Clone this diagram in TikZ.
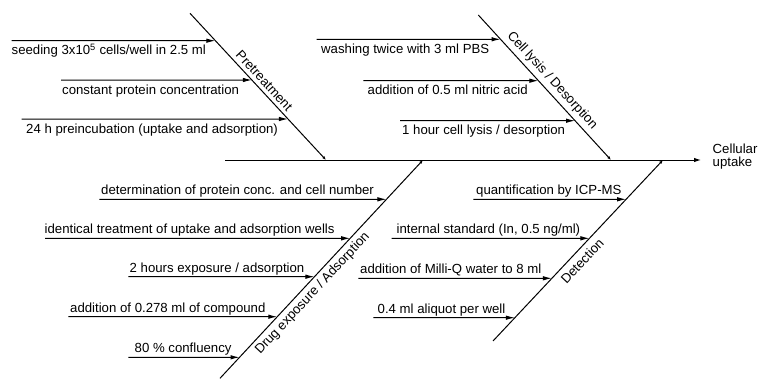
\documentclass[tikz,border=0pt]{standalone}
\usepackage{fontspec}
\setmainfont{Liberation Sans}
\usetikzlibrary{arrows.meta,calc}

\begin{document}
\begin{tikzpicture}[
        x=1pt, y=-1pt,
        spine/.style={
            line width=1pt,
            -{Latex[length=7pt,width=4.5pt]}
        },
        bone/.style={
            line width=1pt,
            -{Latex[length=4pt,width=3pt]}
        },
        cause/.style={
            line width=1pt,
            -{Latex[length=9pt,width=4.5pt]}
        },
        noteText/.style={
            inner xsep=0pt,
            text height=9.5pt,
            text depth=2.8pt,
            font=\fontsize{13.2}{15}\selectfont
        },
        noteBelow/.style={
            noteText,
            anchor=north west,
            inner ysep=4.5pt
        },
        noteAbove/.style={
            noteText,
            anchor=south west,
            inner ysep=1.5pt
        },
        boneLabel/.style={
            sloped,
            inner sep=3.5pt,
            font=\fontsize{13.2}{15}\selectfont
        },
        effectText/.style={
            anchor=west,
            align=left,
            inner sep=0pt,
            font=\fontsize{13.2}{13.5}\selectfont
        }
    ]

        \useasboundingbox (0,0) rectangle (760,380);

        \coordinate (spineStart) at (225,160);
        \coordinate (spineEnd) at (701,160);
        \node[effectText] (effect) at (712.5,156.4) {Cellular\\uptake};
        \draw[spine] (spineStart) -- (spineEnd);

        \coordinate (preTop) at (190,13.3);
        \coordinate (preBot) at (326,160);
        \coordinate (lysTop) at (478.3,15);
        \coordinate (lysBot) at (611,160);
        \coordinate (drugBot) at (220,378.3);
        \coordinate (drugTop) at (423,160);
        \coordinate (detBot) at (493,341);
        \coordinate (detTop) at (663,160);

        \draw[bone] (preTop) -- (preBot) node[boneLabel, pos=0.5, above] (preLabel) {Pretreatment};
        \draw[bone] (lysTop) -- (lysBot) node[boneLabel, pos=0.5, above] (lysLabel) {Cell lysis / Desorption};
        \draw[bone] (drugBot) -- (drugTop) node[boneLabel, pos=0.42, below] (drugLabel) {Drug exposure / Adsorption};
        \draw[bone] (detBot) -- (detTop) node[boneLabel, pos=0.48, below, inner sep=5pt] (detLabel) {Detection};

        \foreach \yy/\xs/\xt/\txt [count=\i] in {
            40.7/11.7/11.5/{seeding 3x10\textsuperscript{5} cells/well in 2.5 ml},
            80/61/62/{constant protein concentration},
            119/21.7/26/{24 h preincubation (uptake and adsorption)}} {
            \pgfmathsetmacro\f{(\yy-13.3)/146.7}
            \coordinate (preS\i) at (\xs,\yy);
            \coordinate (preT\i) at ($(preTop)!\f!(preBot)$);
            \draw[cause] (preS\i) -- (preT\i);
            \node[noteBelow] (preN\i) at (\xt,\yy) {\txt};
        }

        \foreach \yy/\xs/\xt/\txt [count=\i] in {
            39.3/316.7/321/{washing twice with 3 ml PBS},
            80.7/363.3/367.5/{addition of 0.5 ml nitric acid},
            120.7/400/402/{1 hour cell lysis / desorption}} {
            \pgfmathsetmacro\f{(\yy-15)/145}
            \coordinate (lysS\i) at (\xs,\yy);
            \coordinate (lysT\i) at ($(lysTop)!\f!(lysBot)$);
            \draw[cause] (lysS\i) -- (lysT\i);
            \node[noteBelow] (lysN\i) at (\xt,\yy) {\txt};
        }

        \foreach \yy/\xs/\xt/\txt [count=\i] in {
            199.3/99.3/101/{determination of protein conc. and cell number},
            238.3/45/44.5/{identical treatment of uptake and adsorption wells},
            276.7/128.3/129.5/{2 hours exposure / adsorption},
            316.7/68.3/70/{addition of 0.278 ml of compound},
            357.3/128.3/134.5/{80 \% confluency}} {
            \pgfmathsetmacro\f{(378.3-\yy)/218.3}
            \coordinate (drugS\i) at (\xs,\yy);
            \coordinate (drugT\i) at ($(drugBot)!\f!(drugTop)$);
            \draw[cause] (drugS\i) -- (drugT\i);
            \node[noteAbove] (drugN\i) at (\xt,\yy) {\txt};
        }

        \foreach \yy/\xs/\xt/\txt [count=\i] in {
            199.3/473.3/476/{quantification by ICP-MS},
            238.3/391.7/396.5/{internal standard (In, 0.5 ng/ml)},
            278.3/358.3/360/{addition of Milli-Q water to 8 ml},
            317.7/373.3/377.5/{0.4 ml aliquot per well}} {
            \pgfmathsetmacro\f{(341-\yy)/181}
            \coordinate (detS\i) at (\xs,\yy);
            \coordinate (detT\i) at ($(detBot)!\f!(detTop)$);
            \draw[cause] (detS\i) -- (detT\i);
            \node[noteAbove] (detN\i) at (\xt,\yy) {\txt};
        }

    \end{tikzpicture}
\end{document}
